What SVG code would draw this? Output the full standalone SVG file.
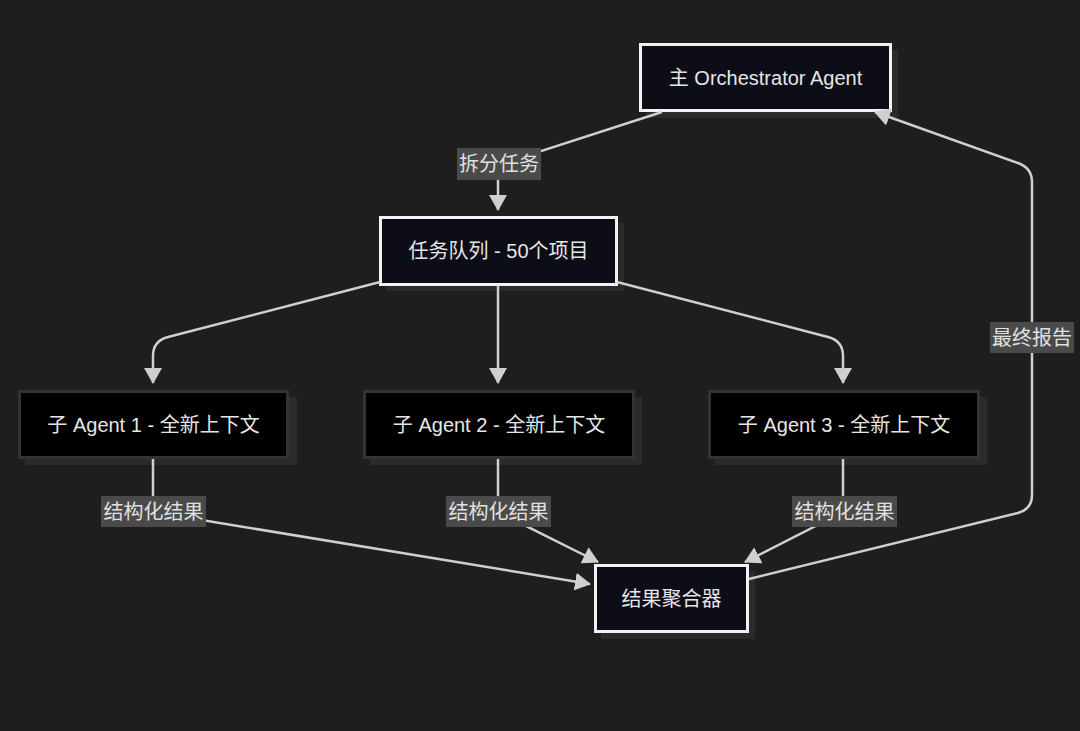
<svg xmlns="http://www.w3.org/2000/svg" width="1080" height="731" viewBox="0 0 1080 731">
<defs>
<style>
text{font-family:"Liberation Sans","Noto Sans CJK SC",sans-serif;font-size:20px;text-anchor:middle;dominant-baseline:central}
.main rect.box{fill:#0d0d17;stroke:#f2f2f2;stroke-width:3}
.sub rect.box{fill:#000;stroke:#333;stroke-width:3}
.shadow{fill:#2b2b2b}
.nt{fill:#e6e6e6}
.edge{fill:none;stroke:#cfcfcf;stroke-width:2.5}
.lbl rect{fill:#4a4a4a}
.lbl text{fill:#e0e0e0}
</style>
<marker id="ah" markerUnits="userSpaceOnUse" markerWidth="16" markerHeight="18" viewBox="0 0 16 18" refX="15" refY="9" orient="auto">
<path d="M0,0 L16,9 L0,18 Z" fill="#cfcfcf"/>
</marker>
</defs>
<rect width="1080" height="731" fill="#1e1e1e"/>

<g id="orchestrator" class="main">
<rect class="shadow" x="646" y="50" width="252" height="68"/>
<rect class="box" x="640.5" y="44.5" width="250" height="66"/>
<text class="nt" x="765.5" y="78">主 Orchestrator Agent</text>
</g>
<g id="queue" class="main">
<rect class="shadow" x="386" y="223" width="238" height="68"/>
<rect class="box" x="380.5" y="217.5" width="236" height="67"/>
<text class="nt" x="498.5" y="251">任务队列 - 50个项目</text>
</g>
<g id="agent1" class="sub">
<rect class="shadow" x="25" y="397" width="272" height="68"/>
<rect class="box" x="19.5" y="391.5" width="268" height="66"/>
<text class="nt" x="153.5" y="424.5">子 Agent 1 - 全新上下文</text>
</g>
<g id="agent2" class="sub">
<rect class="shadow" x="370" y="397" width="272" height="68"/>
<rect class="box" x="364.5" y="391.5" width="269" height="66"/>
<text class="nt" x="499" y="424.5">子 Agent 2 - 全新上下文</text>
</g>
<g id="agent3" class="sub">
<rect class="shadow" x="715" y="397" width="272" height="68"/>
<rect class="box" x="709.5" y="391.5" width="269" height="66"/>
<text class="nt" x="844" y="424.5">子 Agent 3 - 全新上下文</text>
</g>
<g id="aggregator" class="main">
<rect class="shadow" x="601" y="571" width="154" height="68"/>
<rect class="box" x="595.5" y="565.5" width="152" height="66"/>
<text class="nt" x="671.5" y="598.5">结果聚合器</text>
</g>

<g id="connectors">
<path class="edge" d="M662,112 L498,165 L498,210" marker-end="url(#ah)"/>
<path class="edge" d="M380,282 L168,337 Q153,341 153,356 L153,383" marker-end="url(#ah)"/>
<path class="edge" d="M498,286 L498,383" marker-end="url(#ah)"/>
<path class="edge" d="M617,282 L828,337 Q843,341 843,356 L843,383" marker-end="url(#ah)"/>
<path class="edge" d="M153,459 L153,512 L590,584" marker-end="url(#ah)"/>
<path class="edge" d="M498,459 L498,512 L598,562" marker-end="url(#ah)"/>
<path class="edge" d="M843,459 L843,512 L745,562" marker-end="url(#ah)"/>
<path class="edge" d="M749,579 L1018,513 Q1032,509 1032,495 L1032,182 Q1032,168 1018,163 L875,112" marker-end="url(#ah)"/>
<g class="lbl">
<rect x="457" y="148" width="84" height="32"/><text x="499" y="164">拆分任务</text>
<rect x="101" y="496" width="105" height="31"/><text x="153.5" y="511.5">结构化结果</text>
<rect x="446" y="496" width="105" height="31"/><text x="498.5" y="511.5">结构化结果</text>
<rect x="792" y="496" width="105" height="31"/><text x="844.5" y="511.5">结构化结果</text>
<rect x="990" y="322" width="84" height="31"/><text x="1032" y="337.5">最终报告</text>
</g>
</g>
</svg>
